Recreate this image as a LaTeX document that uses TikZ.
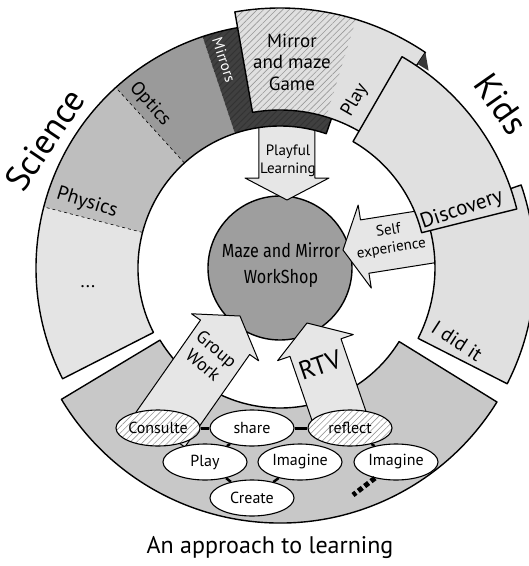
\documentclass[tikz,border=0pt]{standalone}
\usepackage{fontspec}
\setmainfont{PT Sans}
\newfontfamily\workfont[FakeStretch=0.85]{Fira Sans}
\usetikzlibrary{patterns.meta,shapes.geometric}
\definecolor{gDots}{HTML}{E4E4E4}
\definecolor{gPhys}{HTML}{BEBEBE}
\definecolor{gOpt}{HTML}{9A9A9A}
\definecolor{gMir}{HTML}{404040}
\definecolor{gTile}{HTML}{E0E0E0}
\definecolor{gBot}{HTML}{C8C8C8}
\definecolor{gCirc}{HTML}{9E9E9E}
\definecolor{gArrow}{HTML}{E6E6E6}
\newcommand{\annsec}[4]{(#1:#4pt) arc[start angle=#1, end angle=#2, radius=#4pt] -- (#2:#3pt) arc[start angle=#2, end angle=#1, radius=#3pt] -- cycle}
\begin{document}
\begin{tikzpicture}[x=1pt,y=1pt,line join=round,
  tile/.style={draw=black,line width=1.4pt},
  arrowbox/.style={draw=black,line width=1pt,fill=gArrow},
  hatchgray/.style={pattern={Lines[angle=45,distance=4.5pt,line width=0.6pt]},pattern color=gray!80},
  oval/.style={ellipse,draw=black,line width=1.1pt,fill=white,minimum width=84pt,minimum height=36pt,inner sep=0pt,font=\fontsize{16}{16}\selectfont},
  hatchoval/.style={oval,preaction={fill=white},hatchgray},
  conn/.style={line width=3pt},
  dotconn/.style={line width=2.5pt},
  seglabel/.style={font=\fontsize{19}{19}\selectfont,inner sep=0pt},
  biglabel/.style={font=\fontsize{35}{35}\selectfont,inner sep=0pt},
  arrowlabel/.style={font=\fontsize{15}{18}\selectfont,inner sep=0pt,align=center}]
\useasboundingbox (-280,-298) rectangle (249,268);
\clip (-280,-298) rectangle (249,268);
% central workshop circle
\node[circle,draw=black,line width=1.4pt,fill=gCirc,minimum size=144pt,inner sep=0pt] (ws) at (0,0) {};
% bottom tile
\draw[tile,fill=gBot] \annsec{211}{328.3}{140}{255};
% arrows into the circle
\draw[arrowbox,shift={(7,68)},rotate=-90] (0,0) -- (-22,42) -- (-22,28) -- (-76,28) -- (-76,-28) -- (-22,-28) -- (-22,-42) -- cycle;
\draw[arrowbox,shift={(63,18)},rotate=189] (0,0) -- (-22,42) -- (-22,27) -- (-120,27) -- (-120,-27) -- (-22,-27) -- (-22,-42) -- cycle;
\draw[arrowbox,shift={(-40,-48)},rotate=55] (0,0) -- (-26,41) -- (-26,30) -- (-139,30) -- (-139,-30) -- (-26,-30) -- (-26,-41) -- cycle;
\draw[arrowbox,shift={(27,-55)},rotate=109] (0,0) -- (-26,40) -- (-26,27) -- (-113,27) -- (-113,-27) -- (-26,-27) -- (-26,-40) -- cycle;
\node[font=\workfont\fontsize{19}{26}\selectfont,align=center,inner sep=0pt] (wstext) at (1,3) {Maze and Mirror\\WorkShop};
% Science tile
\fill[gDots] \annsec{165.5}{207}{142}{244};
\fill[gPhys] \annsec{132.3}{165.5}{142}{244};
\fill[gOpt] \annsec{108.5}{132.3}{142}{244};
\path[preaction={fill=gMir},pattern={Lines[angle=45,distance=4.5pt,line width=0.9pt]},pattern color=black!80] \annsec{71}{108.5}{142}{244};
\draw[dashed,line width=0.6pt] (132.3:142pt) -- (132.3:244pt);
\draw[dashed,line width=0.6pt] (165.5:142pt) -- (165.5:244pt);
\draw[tile] \annsec{71}{207}{142}{244};
% Play tile with the game box
\fill[gTile] \annsec{56}{100}{158}{260};
\path[hatchgray] \annsec{73}{100}{158}{260};
\draw[tile] \annsec{56}{100}{158}{260};
\fill[gray!45!black] (56:260pt) -- (56:246pt) -- (53:247pt) -- cycle;
% Kids tiles
\draw[tile,fill=gTile] \annsec{-27}{19}{155}{255};
\draw[tile,fill=gTile] \annsec{14}{60}{146}{244};
% ellipses
\node[hatchoval] (consulte) at (-122,-160) {Consulte};
\node[oval] (share) at (-28,-160) {share};
\node[hatchoval] (reflect) at (70,-160) {reflect};
\node[oval] (play) at (-75,-194) {Play};
\node[oval] (imag1) at (20,-194) {Imagine};
\node[oval] (imag2) at (116,-194) {Imagine};
\node[oval] (create) at (-28,-230) {Create};
\coordinate (more) at (73,-227);
\draw[conn] (consulte) -- (share);
\draw[conn] (share) -- (reflect);
\draw[dotconn] (share) -- (play);
\draw[dotconn] (play) -- (create);
\draw[dotconn] (imag1) -- (create);
\draw[dotconn] (reflect) -- (imag2);
\draw[line width=5pt,dash pattern=on 5pt off 3pt] (imag2) -- (more);
% labels
\node[biglabel,rotate=56] (science) at (-235,128) {Science};
\node[biglabel,rotate=-55] (kids) at (221,164) {Kids};
\node[font=\fontsize{24}{24}\selectfont,inner sep=0pt] (title) at (-10,-280) {An approach to learning};
\node[seglabel,align=center,font=\fontsize{19}{21.5}\selectfont] (game) at (12,206) {Mirror\\and maze\\Game};
\node[seglabel,rotate=60] (playlab) at (75,168) {Play};
\node[seglabel,rotate=-72,text=white,font=\fontsize{15}{15}\selectfont] (mirrors) at (-56,208) {Mirrors};
\node[seglabel,rotate=-48] (optics) at (-130,164) {Optics};
\node[seglabel,rotate=-17,font=\fontsize{20}{20}\selectfont] (physics) at (-193,65) {Physics};
\node[seglabel] (dots) at (-192,-19) {...};
\node[seglabel,rotate=19,font=\fontsize{21}{21}\selectfont] (discovery) at (182,58) {Discovery};
\node[seglabel,rotate=-33,font=\fontsize{20}{20}\selectfont] (didit) at (177,-73) {I did it};
\node[arrowlabel] (playful) at (8,107) {Playful\\Learning};
\node[arrowlabel,rotate=9] (selfexp) at (110,28) {Self\\experience};
\node[arrowlabel,rotate=-40,font=\fontsize{18}{21}\selectfont] (group) at (-70,-89) {Group\\Work};
\node[inner sep=0pt,rotate=19,font=\fontsize{26}{26}\selectfont] (rtv) at (40,-97) {RTV};
\end{tikzpicture}
\end{document}
